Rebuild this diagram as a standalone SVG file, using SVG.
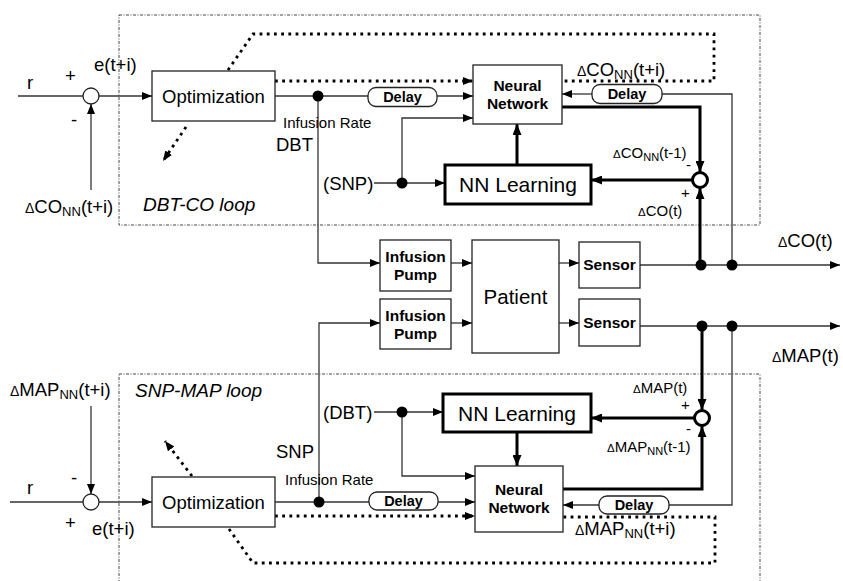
<svg xmlns="http://www.w3.org/2000/svg" width="843" height="581" viewBox="0 0 843 581">
<defs>
  <marker id="ah" viewBox="0 0 10 8" refX="10" refY="4" markerWidth="10" markerHeight="8" markerUnits="userSpaceOnUse" orient="auto">
    <path d="M0,0 L10,4 L0,8 z" fill="#000"/>
  </marker>
  <marker id="ahb" viewBox="0 0 11 9" refX="11" refY="4.5" markerWidth="11" markerHeight="9" markerUnits="userSpaceOnUse" orient="auto">
    <path d="M0,0 L11,4.5 L0,9 z" fill="#000"/>
  </marker>
  <style>
    text { font-family: "Liberation Sans", Arial, sans-serif; fill: #000; }
    .big { font-size: 18.5px; }
    .sm { font-size: 15px; }
    .bold { font-weight: bold; font-size: 15.5px; }
    .dl { font-weight: bold; font-size: 14.5px; }
    .it { font-style: italic; font-size: 19px; }
    .box { fill: #fff; stroke: #222; stroke-width: 1.3; }
    .tbox { fill: #fff; stroke: #000; stroke-width: 3; }
    .frame { fill: none; stroke: #444; stroke-width: 1; stroke-dasharray: 3 1.5 1 1.5; }
    .w { fill: none; stroke: #333; stroke-width: 1.3; }
    .k { fill: none; stroke: #000; stroke-width: 3; }
    .dot { fill: none; stroke: #000; stroke-width: 2.8; stroke-dasharray: 2.8 4.4; }
    .j { fill: #000; }
    .sum { fill: #fff; stroke: #222; stroke-width: 1.3; }
    .sumk { fill: #fff; stroke: #000; stroke-width: 3; }
  </style>
</defs>

<!-- loop frames -->
<rect class="frame" x="119" y="15" width="641" height="210"/>
<rect class="frame" x="119" y="374" width="641" height="230"/>

<!-- connectors -->
<g id="connectors">
  <!-- upper loop -->
  <path class="w" d="M18,96 H83"/>
  <path class="w" d="M99,96 H152" marker-end="url(#ah)"/>
  <path class="w" d="M91,190 V104" marker-end="url(#ah)"/>
  <path class="w" d="M275,96 H368"/>
  <path class="w" d="M437,96 H473" marker-end="url(#ah)"/>
  <path class="w" d="M318,96 V263 H380" marker-end="url(#ah)"/>
  <path class="w" d="M374,183 H445" marker-end="url(#ah)"/>
  <path class="w" d="M402,183 V118 H473" marker-end="url(#ah)"/>
  <path class="w" d="M732,265 V94 H662"/>
  <path class="w" d="M592,94 H562" marker-end="url(#ah)"/>
  <path class="k" d="M517,165 V124" marker-end="url(#ahb)"/>
  <path class="k" d="M562,107 H700 V172" marker-end="url(#ahb)"/>
  <path class="k" d="M692,180 H591" marker-end="url(#ahb)"/>
  <path class="k" d="M700,265 V188" marker-end="url(#ahb)"/>
  <path class="dot" d="M275,81 H473" marker-end="url(#ah)"/>
  <path class="dot" d="M228,70 L253,34 H714 V81 H562"/>
  <path class="dot" d="M186,127 L163,161" marker-end="url(#ah)"/>

  <!-- plant -->
  <path class="w" d="M451,263 H472" marker-end="url(#ah)"/>
  <path class="w" d="M451,323 H472" marker-end="url(#ah)"/>
  <path class="w" d="M559,263 H579" marker-end="url(#ah)"/>
  <path class="w" d="M559,323 H579" marker-end="url(#ah)"/>
  <path class="w" d="M640,265 H840" marker-end="url(#ah)"/>
  <path class="w" d="M640,326 H840" marker-end="url(#ah)"/>

  <!-- lower loop -->
  <path class="w" d="M10,502 H83"/>
  <path class="w" d="M99,502 H152" marker-end="url(#ah)"/>
  <path class="w" d="M91,406 V494" marker-end="url(#ah)"/>
  <path class="w" d="M275,502 H369"/>
  <path class="w" d="M438,502 H475" marker-end="url(#ah)"/>
  <path class="w" d="M319,502 V323 H380" marker-end="url(#ah)"/>
  <path class="w" d="M374,412 H443" marker-end="url(#ah)"/>
  <path class="w" d="M402,412 V476 H475" marker-end="url(#ah)"/>
  <path class="w" d="M732,326 V505 H669"/>
  <path class="w" d="M599,505 H563" marker-end="url(#ah)"/>
  <path class="k" d="M517,432 V466" marker-end="url(#ahb)"/>
  <path class="k" d="M563,489 H702 V426" marker-end="url(#ahb)"/>
  <path class="k" d="M702,326 V410" marker-end="url(#ahb)"/>
  <path class="k" d="M694,418 H591" marker-end="url(#ahb)"/>
  <path class="dot" d="M275,516 H475" marker-end="url(#ah)"/>
  <path class="dot" d="M229,529 L253,563 H715 V517 H563"/>
  <path class="dot" d="M192,476 L165,441" marker-end="url(#ah)"/>

  <!-- junctions -->
  <circle class="j" cx="318" cy="96" r="5.5"/>
  <circle class="j" cx="402" cy="183" r="5.5"/>
  <circle class="j" cx="701" cy="265" r="5.5"/>
  <circle class="j" cx="732" cy="265" r="5.5"/>
  <circle class="j" cx="702" cy="326" r="5.5"/>
  <circle class="j" cx="732" cy="326" r="5.5"/>
  <circle class="j" cx="319" cy="502" r="5.5"/>
  <circle class="j" cx="402" cy="412" r="5.5"/>
</g>

<!-- summing junctions -->
<g id="sum-co-ref"><circle class="sum" cx="91" cy="96" r="8"/></g>
<g id="sum-co-err"><circle class="sumk" cx="700" cy="180" r="7.5"/></g>
<g id="sum-map-ref"><circle class="sum" cx="91" cy="502" r="8"/></g>
<g id="sum-map-err"><circle class="sumk" cx="702" cy="418" r="7.5"/></g>

<!-- upper loop blocks -->
<g id="opt-co">
  <rect class="box" x="152" y="71" width="123" height="50"/>
  <text class="big" x="213.5" y="103" text-anchor="middle">Optimization</text>
</g>
<g id="delay-co-in">
  <rect class="box" x="368" y="87.5" width="69" height="19" rx="8"/>
  <text class="dl" x="402.5" y="102" text-anchor="middle">Delay</text>
</g>
<g id="nn-co">
  <rect class="box" x="473" y="65" width="89" height="59"/>
  <text class="bold" x="517.5" y="91" text-anchor="middle">Neural</text>
  <text class="bold" x="517.5" y="109" text-anchor="middle">Network</text>
</g>
<g id="learn-co">
  <rect class="tbox" x="445" y="165" width="146" height="39"/>
  <text x="518" y="192" text-anchor="middle" font-size="21">NN Learning</text>
</g>
<g id="delay-co-fb">
  <rect class="box" x="592" y="84.5" width="70" height="19" rx="8"/>
  <text class="dl" x="627" y="99" text-anchor="middle">Delay</text>
</g>

<!-- plant -->
<g id="pump-dbt">
  <rect class="box" x="380" y="240" width="71" height="51"/>
  <text class="bold" x="415.5" y="262" text-anchor="middle">Infusion</text>
  <text class="bold" x="415.5" y="280" text-anchor="middle">Pump</text>
</g>
<g id="pump-snp">
  <rect class="box" x="380" y="299" width="71" height="50"/>
  <text class="bold" x="415.5" y="321" text-anchor="middle">Infusion</text>
  <text class="bold" x="415.5" y="339" text-anchor="middle">Pump</text>
</g>
<g id="patient">
  <rect class="box" x="472" y="240" width="87" height="113"/>
  <text x="515.5" y="304" text-anchor="middle" font-size="20.5">Patient</text>
</g>
<g id="sensor-co">
  <rect class="box" x="579" y="242" width="61" height="46"/>
  <text class="bold" x="609.5" y="270" text-anchor="middle">Sensor</text>
</g>
<g id="sensor-map">
  <rect class="box" x="579" y="299" width="61" height="47"/>
  <text class="bold" x="609.5" y="328" text-anchor="middle">Sensor</text>
</g>

<!-- lower loop blocks -->
<g id="opt-map">
  <rect class="box" x="152" y="477" width="123" height="50"/>
  <text class="big" x="213.5" y="509" text-anchor="middle">Optimization</text>
</g>
<g id="delay-map-in">
  <rect class="box" x="369" y="492" width="69" height="18" rx="8"/>
  <text class="dl" x="403.5" y="506" text-anchor="middle">Delay</text>
</g>
<g id="nn-map">
  <rect class="box" x="475" y="466" width="88" height="66"/>
  <text class="bold" x="519" y="495" text-anchor="middle">Neural</text>
  <text class="bold" x="519" y="513" text-anchor="middle">Network</text>
</g>
<g id="learn-map">
  <rect class="tbox" x="443" y="394" width="148" height="38"/>
  <text x="517" y="420.5" text-anchor="middle" font-size="21">NN Learning</text>
</g>
<g id="delay-map-fb">
  <rect class="box" x="599" y="496" width="70" height="18" rx="8"/>
  <text class="dl" x="634" y="510" text-anchor="middle">Delay</text>
</g>

<!-- labels -->
<g id="labels">
  <text class="big" x="27" y="89">r</text>
  <text class="big" x="65" y="82">+</text>
  <text class="big" x="71" y="126">-</text>
  <text class="big" x="94" y="71">e(t+i)</text>
  <text class="big" x="25" y="213"><tspan font-size="14">Δ</tspan>CO<tspan font-size="13" dy="3">NN</tspan><tspan dy="-3">(t+i)</tspan></text>
  <text class="it" x="143" y="211">DBT-CO loop</text>
  <text class="sm" x="283" y="128">Infusion Rate</text>
  <text class="big" x="276" y="151">DBT</text>
  <text class="big" x="323" y="189.5">(SNP)</text>
  <text class="big" x="577" y="76"><tspan font-size="14">Δ</tspan>CO<tspan font-size="13" dy="3">NN</tspan><tspan dy="-3">(t+i)</tspan></text>
  <text class="sm" x="613" y="158"><tspan font-size="11.5">Δ</tspan>CO<tspan font-size="11" dy="2.5">NN</tspan><tspan dy="-2.5">(t-1)</tspan></text>
  <text class="sm" x="686" y="170">-</text>
  <text class="sm" x="681" y="198">+</text>
  <text class="sm" x="638" y="216"><tspan font-size="11.5">Δ</tspan>CO(t)</text>
  <text class="big" x="778" y="247"><tspan font-size="14">Δ</tspan>CO(t)</text>
  <text class="big" x="772" y="362"><tspan font-size="14">Δ</tspan>MAP(t)</text>

  <text class="big" x="10" y="396"><tspan font-size="14">Δ</tspan>MAP<tspan font-size="13" dy="3">NN</tspan><tspan dy="-3">(t+i)</tspan></text>
  <text class="it" x="135" y="397">SNP-MAP loop</text>
  <text class="big" x="27" y="494">r</text>
  <text class="big" x="71" y="484">-</text>
  <text class="big" x="65" y="529">+</text>
  <text class="big" x="92" y="535">e(t+i)</text>
  <text class="big" x="276" y="458">SNP</text>
  <text class="sm" x="285" y="485">Infusion Rate</text>
  <text class="big" x="323" y="418.5">(DBT)</text>
  <text class="sm" x="633" y="393"><tspan font-size="11.5">Δ</tspan>MAP(t)</text>
  <text class="sm" x="681" y="410">+</text>
  <text class="sm" x="686" y="434">-</text>
  <text class="sm" x="607" y="452"><tspan font-size="11.5">Δ</tspan>MAP<tspan font-size="11" dy="2.5">NN</tspan><tspan dy="-2.5">(t-1)</tspan></text>
  <text class="big" x="575" y="535"><tspan font-size="14">Δ</tspan>MAP<tspan font-size="13" dy="3">NN</tspan><tspan dy="-3">(t+i)</tspan></text>
</g>
</svg>
